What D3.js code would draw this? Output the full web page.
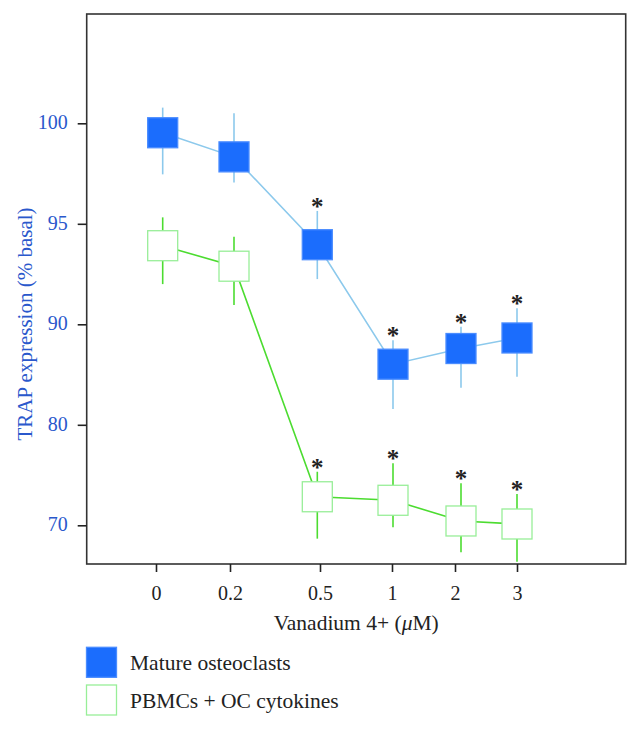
<!DOCTYPE html>
<html>
<head>
<meta charset="utf-8">
<script src="https://cdn.jsdelivr.net/npm/d3@7"></script>
<style>
  html, body { margin: 0; padding: 0; background: #fff; }
  svg { display: block; }
  text { font-family: "Liberation Serif", "DejaVu Serif", serif; }
</style>
</head>
<body>
<svg id="chart" width="640" height="729"></svg>
<script>
// ---------- data ----------
const doses = ["0", "0.2", "0.5", "1", "2", "3"];
const yTickValues = [70, 80, 90, 95, 100];
const seriesNames = ["Mature osteoclasts", "PBMCs + OC cytokines"];

const matureMean  = [99.53, 98.33, 93.96, 86.03, 87.59, 88.64];
const matureUpper = [100.78, 100.50, 95.64, 88.41, 89.76, 90.80];
const matureLower = [97.46, 97.06, 92.25, 81.57, 83.69, 84.79];
const matureSig   = [false, false, true, true, true, true];

const pbmcMean  = [93.91, 92.89, 72.84, 72.49, 70.43, 70.13];
const pbmcUpper = [95.32, 94.36, 75.33, 76.18, 74.18, 73.11];
const pbmcLower = [92.00, 90.96, 68.67, 69.80, 67.31, 66.38];
const pbmcSig   = [false, false, true, true, true, true];

const xTitle = "Vanadium 4+ (";
const yTitle = "TRAP expression (% basal)";

// ---------- layout ----------
const svg = d3.select("#chart");
const frame = { left: 86.7, right: 625.7, top: 14, bottom: 564 };

// axis ticks (ordinal, non-uniform spacing as in the original)
const xTick = d3.scaleOrdinal().domain(doses).range([156, 230, 320, 392, 455, 517]);
// marker positions (slightly offset from ticks in the original)
const xMark = d3.scaleOrdinal().domain(doses).range([162.7, 234, 317.3, 393, 461, 517]);
// broken (piecewise) y axis: equal spacing for 70,80,90,95,100
const y = d3.scaleLinear().domain(yTickValues).range([525.3, 424.8, 324.3, 223.8, 123.3]);

const blueFill = "#1b6dfd", blueEdge = "#4a8cff", blueLine = "#8cc9ec";
const greenLine = "#4cdc30", greenEdge = "#98ee98";
const axisBlue = "#2a58cc";

// frame
svg.append("rect")
  .attr("x", frame.left).attr("y", frame.top)
  .attr("width", frame.right - frame.left).attr("height", frame.bottom - frame.top)
  .attr("fill", "none").attr("stroke", "#333").attr("stroke-width", 1.6);

// y axis
const gy = svg.append("g").attr("transform", `translate(${frame.left},0)`)
  .call(d3.axisLeft(y).tickValues(yTickValues).tickSize(9).tickPadding(10).tickFormat(d3.format("d")));
gy.select(".domain").remove();
gy.selectAll(".tick line").attr("stroke", "#222").attr("stroke-width", 1.6);
gy.selectAll(".tick text").attr("fill", axisBlue).attr("font-size", 20).attr("dy", "0.28em");

// x axis
const gx = svg.append("g").attr("transform", `translate(0,${frame.bottom})`)
  .call(d3.axisBottom(xTick).tickSize(8).tickPadding(14));
gx.select(".domain").remove();
gx.selectAll(".tick line").attr("stroke", "#222").attr("stroke-width", 1.6);
gx.selectAll(".tick text").attr("fill", "#222").attr("font-size", 20);

// axis titles
const xt = svg.append("text")
  .attr("x", (frame.left + frame.right) / 2).attr("y", 630)
  .attr("text-anchor", "middle").attr("font-size", 21.5).attr("fill", "#222");
xt.append("tspan").text(xTitle);
xt.append("tspan").attr("font-style", "italic").text("\u03bc");
xt.append("tspan").text("M)");

svg.append("text")
  .attr("transform", "translate(32,324) rotate(-90)")
  .attr("text-anchor", "middle").attr("font-size", 21).attr("fill", axisBlue)
  .text(yTitle);

// ---------- series ----------
function buildSeries(mean, upper, lower, sig) {
  return doses.map((d, i) => ({ dose: d, mean: mean[i], upper: upper[i], lower: lower[i], sig: sig[i] }));
}
const mature = buildSeries(matureMean, matureUpper, matureLower, matureSig);
const pbmc = buildSeries(pbmcMean, pbmcUpper, pbmcLower, pbmcSig);

const line = d3.line().x(d => xMark(d.dose)).y(d => y(d.mean));
const box = 30;

function drawSeries(data, opts) {
  const g = svg.append("g");
  g.append("path").datum(data).attr("d", line)
    .attr("fill", "none").attr("stroke", opts.line).attr("stroke-width", 1.6);
  g.selectAll("line.err").data(data).join("line").attr("class", "err")
    .attr("x1", d => xMark(d.dose)).attr("x2", d => xMark(d.dose))
    .attr("y1", d => y(d.upper)).attr("y2", d => y(d.lower))
    .attr("stroke", opts.whisker).attr("stroke-width", 1.6);
  g.selectAll("rect.box").data(data).join("rect").attr("class", "box")
    .attr("x", d => xMark(d.dose) - box / 2).attr("y", d => y(d.mean) - box / 2)
    .attr("width", box).attr("height", box)
    .attr("fill", opts.fill).attr("stroke", opts.edge).attr("stroke-width", 1.3);
  g.selectAll("text.sig").data(data.filter(d => d.sig)).join("text").attr("class", "sig")
    .attr("x", d => xMark(d.dose)).attr("y", d => y(d.upper) + 4)
    .attr("text-anchor", "middle").attr("font-size", 25).attr("font-weight", "bold")
    .attr("fill", "#222")
    .text("*");
}
drawSeries(mature, { line: blueLine, whisker: blueLine, fill: blueFill, edge: blueEdge });
drawSeries(pbmc, { line: greenLine, whisker: greenLine, fill: "#fff", edge: greenEdge });

// ---------- legend ----------
const legend = svg.append("g");
const legendItems = [
  { name: seriesNames[0], fill: blueFill, edge: blueEdge },
  { name: seriesNames[1], fill: "#fff", edge: greenEdge }
];
legendItems.forEach((it, i) => {
  const top = 647.3 + i * 37.7;
  legend.append("rect").attr("x", 86.5).attr("y", top).attr("width", 30).attr("height", 30)
    .attr("fill", it.fill).attr("stroke", it.edge).attr("stroke-width", 1.3);
  legend.append("text").attr("x", 130).attr("y", top + 22.5)
    .attr("font-size", 21.5).attr("fill", "#222").text(it.name);
});
</script>
</body>
</html>
